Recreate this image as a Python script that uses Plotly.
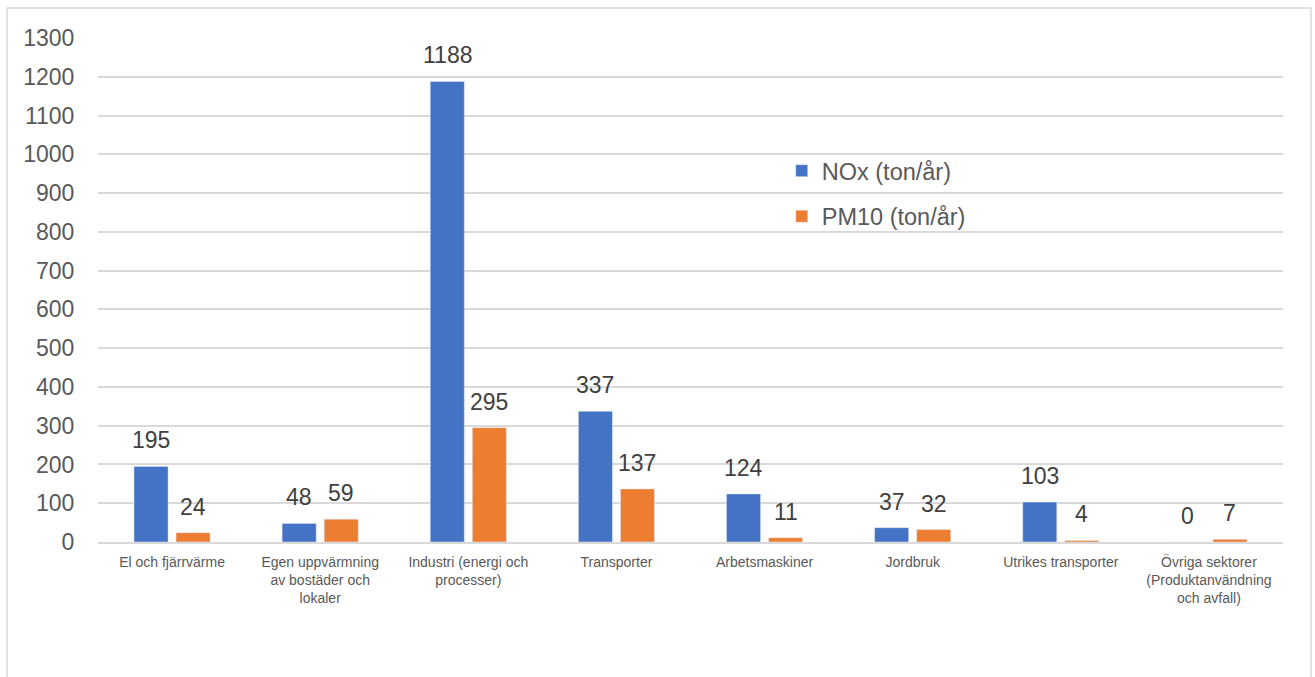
import plotly.graph_objects as go

# Utsläpp per sektor
sektorer = [
    "El och fjärrvärme",
    "Egen uppvärmning<br>av bostäder och<br>lokaler",
    "Industri (energi och<br>processer)",
    "Transporter",
    "Arbetsmaskiner",
    "Jordbruk",
    "Utrikes transporter",
    "Övriga sektorer<br>(Produktanvändning<br>och avfall)",
]
nox = [195, 48, 1188, 337, 124, 37, 103, 0]
pm10 = [24, 59, 295, 137, 11, 32, 4, 7]
y_ticks = list(range(0, 1301, 100))

BLUE = "#4472C4"
ORANGE = "#ED7D31"
FONT = "Liberation Sans, Arial, sans-serif"

fig = go.Figure()
fig.add_trace(go.Bar(x=sektorer, y=nox, name="NOx (ton/år)", marker_color=BLUE,
                     legendgroup="a", hoverinfo="x+y"))
fig.add_trace(go.Bar(x=sektorer, y=pm10, name="PM10 (ton/år)", marker_color=ORANGE,
                     legendgroup="b", hoverinfo="x+y"))

# Värdeetiketter ovanför staplarna
for vals, shift in ((nox, -21), (pm10, 21)):
    for cat, v in zip(sektorer, vals):
        fig.add_annotation(x=cat, y=v, text=str(v), showarrow=False,
                           xshift=shift, yshift=26, yanchor="middle",
                           font=dict(family=FONT, size=23, color="#404040"))

# Diagramram
fig.add_shape(type="rect", xref="paper", yref="paper",
              x0=-0.0768, x1=1.0236, y0=-0.3, y1=1.0595,
              line=dict(color="#d9d9d9", width=1.5), layer="below")

fig.update_layout(
    width=1315, height=677,
    margin=dict(l=98, r=32, t=38, b=135),
    paper_bgcolor="white", plot_bgcolor="white",
    barmode="group", bargap=0.432, bargroupgap=0.19,
    font=dict(family=FONT, color="#595959"),
    showlegend=True,
    legend=dict(x=0.577, y=0.78, xanchor="left", yanchor="top",
                font=dict(family=FONT, size=23.5, color="#595959"),
                tracegroupgap=12, itemwidth=30, bgcolor="rgba(0,0,0,0)"),
    xaxis=dict(tickfont=dict(size=14, color="#595959"), showgrid=False,
               showline=True, linecolor="#d9d9d9", linewidth=1.5,
               ticks="outside", ticklen=6, tickcolor="rgba(0,0,0,0)"),
    yaxis=dict(range=[0, 1300], tickvals=y_ticks, showgrid=True,
               gridcolor="#d9d9d9", gridwidth=1.5, zeroline=False,
               tickfont=dict(size=23, color="#595959"),
               ticks="outside", ticklen=18, tickcolor="rgba(0,0,0,0)"),
)

fig.write_html("out.html")
